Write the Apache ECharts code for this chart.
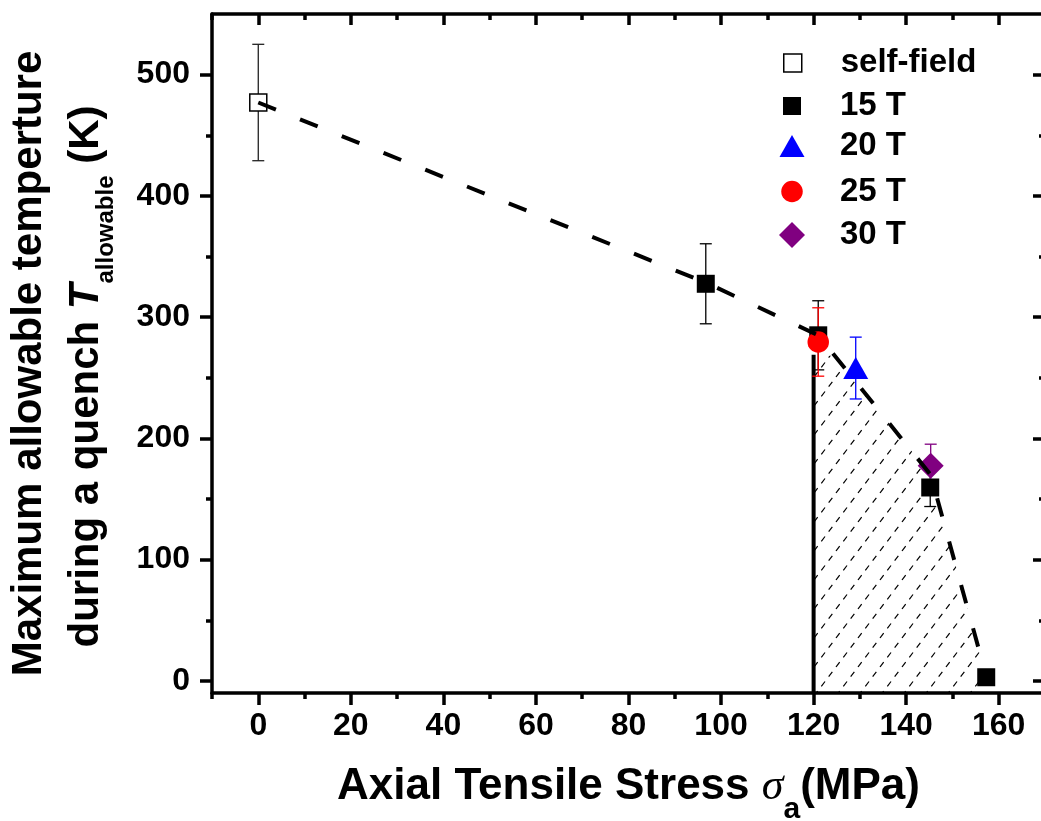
<!DOCTYPE html>
<html><head><meta charset="utf-8">
<script src="https://cdn.jsdelivr.net/npm/echarts@6/dist/echarts.min.js"></script>
<style>html,body{margin:0;padding:0;background:#fff}#c{width:1041px;height:821px}</style>
</head><body><div id="c"></div><script>
// ---- tick labels ----
const xMajorTicks = [0, 20, 40, 60, 80, 100, 120, 140, 160];
const xMinorTicks = [-10, 10, 30, 50, 70, 90, 110, 130, 150, 170];
const yMajorTicks = [0, 100, 200, 300, 400, 500];
const yMinorTicks = [50, 150, 250, 350, 450];

// ---- data [stress MPa, T K] and error half-widths ----
const selfField = [[0, 477]];
const selfFieldErr = [48];
const t15 = [[96.7, 327.5], [121, 285], [145.2, 159.5], [157.3, 3]];
const t15Err = [33, 28.5, 15.7, 0];
const t20 = [[129.1, 258]];
const t20Err = [25.5];
const t25 = [[121, 279.5]];
const t25Err = [28.2];
const t30 = [[145.3, 177.5]];
const t30Err = [17.7];

// guide (dashed) line, hatched region top boundary, 120 MPa limit line
const guideLine = [[0, 477], [97, 328], [121, 285], [145.3, 170], [157.3, 4]];
const hatchTop = [[120, 269], [124.6, 268], [145.3, 170], [157.3, 4]];
const limitLine = [[120, -10], [120, 269]];

const F = "'Liberation Sans', Arial, sans-serif";

function makeHatch() {
  const W = 22, H = 29;
  const c = document.createElement('canvas');
  c.width = W; c.height = H;
  const g = c.getContext('2d');
  g.strokeStyle = '#000';
  g.lineWidth = 1.2;
  const L = Math.hypot(W, H);
  const d = L / 6;
  g.setLineDash([d, d]);
  for (const off of [-W, 0, W]) {
    g.beginPath();
    g.moveTo(off - W, 2 * H);
    g.lineTo(off + 2 * W, -H);
    g.stroke();
  }
  return c;
}

function errSeries(pts, errs, color) {
  const data = [];
  pts.forEach((p, i) => { if (errs[i] > 0) data.push([p[0], p[1] - errs[i], p[1] + errs[i]]); });
  return {
    type: 'custom', xAxisIndex: 0, yAxisIndex: 0, data: data, z: 3, silent: true,
    encode: { x: 0, y: [1, 2] },
    renderItem: function (params, api) {
      const x = api.value(0);
      const lo = api.coord([x, api.value(1)]);
      const hi = api.coord([x, api.value(2)]);
      const hw = 6;
      const st = { stroke: color, lineWidth: 1.3 };
      return {
        type: 'group', children: [
          { type: 'line', shape: { x1: lo[0], y1: lo[1], x2: hi[0], y2: hi[1] }, style: st },
          { type: 'line', shape: { x1: lo[0] - hw, y1: lo[1], x2: lo[0] + hw, y2: lo[1] }, style: st },
          { type: 'line', shape: { x1: hi[0] - hw, y1: hi[1], x2: hi[0] + hw, y2: hi[1] }, style: st }
        ]
      };
    }
  };
}

const axLine = { show: true, onZero: false, lineStyle: { color: '#000', width: 3.5 } };
const tickStyle = { color: '#000', width: 3.5 };
const labelStyle = { fontSize: 32, fontWeight: 'bold', fontFamily: F, color: '#000' };

function xAx(pos, ticks, len, inside, line, labels) {
  return {
    type: 'value', min: -10, max: 170, position: pos,
    axisLine: line ? axLine : { show: false, onZero: false },
    axisTick: { show: true, inside: inside, length: len, lineStyle: tickStyle, customValues: ticks },
    axisLabel: labels ? Object.assign({ show: true, margin: 17, customValues: ticks }, labelStyle) : { show: false },
    splitLine: { show: false }, minorTick: { show: false }
  };
}
function yAx(pos, ticks, len, inside, line, labels) {
  return {
    type: 'value', min: -10, max: 550, position: pos,
    axisLine: line ? axLine : { show: false, onZero: false },
    axisTick: { show: true, inside: inside, length: len, lineStyle: tickStyle, customValues: ticks },
    axisLabel: labels ? Object.assign({ show: true, margin: 22, customValues: ticks }, labelStyle) : { show: false },
    splitLine: { show: false }, minorTick: { show: false }
  };
}

const xMain = xAx('bottom', xMajorTicks, 12, false, true, true);
xMain.name = '{n|Axial Tensile Stress }{g|σ}{s|a}{n|(MPa)}';
xMain.nameLocation = 'middle';
xMain.nameGap = 69;
xMain.nameTextStyle = {
  rich: {
    n: { fontSize: 44, fontWeight: 'bold', fontFamily: F, color: '#000', lineHeight: 50 },
    g: { fontSize: 44, fontStyle: 'italic', fontFamily: "'Liberation Serif', 'Times New Roman', serif", color: '#000', lineHeight: 50 },
    s: { fontSize: 30, fontWeight: 'bold', fontFamily: F, color: '#000', lineHeight: 50, padding: [46, 0, 0, 0] }
  }
};

const yMain = yAx('left', yMajorTicks, 12, false, true, true);
yMain.name = '{n|Maximum allowable temperture}\n{n|during a quench }{i|T}{s|allowable}{k| (K)}';
yMain.nameLocation = 'middle';
yMain.nameGap = 97;
yMain.nameTextStyle = {
  padding: [0, 20, 0, 0],
  rich: {
    n: { fontSize: 42, fontWeight: 'bold', fontFamily: F, color: '#000', lineHeight: 57 },
    i: { fontSize: 42, fontWeight: 'bold', fontStyle: 'italic', fontFamily: F, color: '#000', lineHeight: 57 },
    s: { fontSize: 24, fontWeight: 'bold', fontFamily: F, color: '#000', lineHeight: 57, padding: [40, 0, 0, 0] },
    k: { fontSize: 42, fontWeight: 'bold', fontFamily: F, color: '#000', lineHeight: 57, padding: [0, 26, 0, 0] }
  }
};

const legendRows = [
  ['self-field', 63, 18, 18],
  ['15 T', 106, 18, 18],
  ['20 T', 146, 25, 22],
  ['25 T', 191.5, 21.5, 21.5],
  ['30 T', 235, 26, 26]
];

const legends = legendRows.map(function (r) {
  const item = { name: r[0] };
  if (r[0] === 'self-field') item.itemStyle = { color: '#fff', borderColor: '#000', borderWidth: 1.5, opacity: 1 };
  return {
    data: [item], orient: 'vertical', left: 792 - r[2] / 2, top: r[1] - 16.5, padding: 0,
    itemWidth: r[2], itemHeight: r[3], selectedMode: false,
    itemStyle: { opacity: 1 },
    textStyle: { fontSize: 33, fontWeight: 'bold', fontFamily: F, color: '#000', padding: [0, 0, 0, 43 - r[2] / 2] }
  };
});

const chart = echarts.init(document.getElementById('c'), null, { renderer: 'canvas' });
chart.setOption({
  animation: false,
  backgroundColor: '#fff',
  grid: { left: 212, top: 14, width: 833, height: 679, containLabel: false, outerBoundsMode: 'none' },
  legend: legends,
  xAxis: [
    xMain,
    xAx('bottom', xMinorTicks, 6, false, false, false),
    xAx('top', xMajorTicks, 11, true, true, false),
    xAx('top', xMinorTicks, 6, true, false, false)
  ],
  yAxis: [
    yMain,
    yAx('left', yMinorTicks, 6, false, false, false),
    yAx('right', yMajorTicks, 12, true, true, false),
    yAx('right', yMinorTicks, 6, true, false, false)
  ],
  series: [
    { type: 'line', data: hatchTop, symbol: 'none', silent: true, z: 1,
      lineStyle: { width: 0, opacity: 0 },
      areaStyle: { color: { image: makeHatch(), repeat: 'repeat' }, opacity: 1, origin: 'start' } },
    { type: 'line', data: limitLine, symbol: 'none', silent: true, z: 2,
      lineStyle: { color: '#000', width: 4 } },
    errSeries(selfField, selfFieldErr, '#222'),
    errSeries(t15, t15Err, '#000'),
    errSeries(t20, t20Err, '#0000ff'),
    errSeries(t25, t25Err, '#ff0000'),
    errSeries(t30, t30Err, '#800080'),
    { type: 'scatter', name: 'self-field', data: selfField, symbol: 'rect', symbolSize: 17, z: 4,
      itemStyle: { color: '#fff', borderColor: '#000', borderWidth: 1.5, opacity: 1 } },
    { type: 'scatter', name: '15 T', data: t15, symbol: 'rect', symbolSize: 18, z: 4,
      itemStyle: { color: '#000', opacity: 1 } },
    { type: 'scatter', name: '20 T', data: t20, symbol: 'triangle', symbolSize: [25, 22], z: 4,
      itemStyle: { color: '#0000ff', opacity: 1 } },
    { type: 'scatter', name: '25 T', data: t25, symbol: 'circle', symbolSize: 21.5, z: 4,
      itemStyle: { color: '#ff0000', opacity: 1 } },
    { type: 'scatter', name: '30 T', data: t30, symbol: 'diamond', symbolSize: [26, 26], z: 4,
      itemStyle: { color: '#800080', opacity: 1 } },
    { type: 'line', data: guideLine, symbol: 'none', silent: true, z: 5,
      lineStyle: { color: '#000', width: 4, type: [19, 26] } }
  ]
});
</script></body></html>
